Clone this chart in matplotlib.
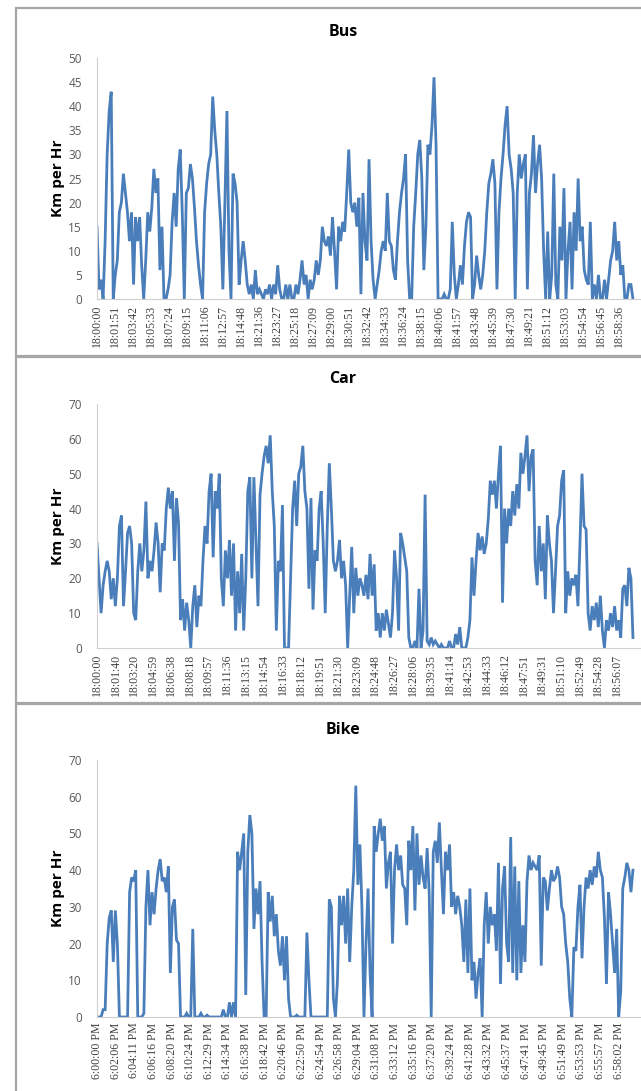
#!/usr/bin/env python3
"""Speed traces (Km per Hr) for bus, car and bike over one hour."""

import matplotlib
matplotlib.use("Agg")
import matplotlib.pyplot as plt
import numpy as np
from matplotlib.patches import Rectangle

LINE_COLOR = "#4a7ebb"

# Tick labels (category axis, one every few samples)
bus_labels = ["18:00:00", "18:01:51", "18:03:42", "18:05:33", "18:07:24", "18:09:15",
              "18:11:06", "18:12:57", "18:14:48", "18:21:36", "18:23:27", "18:25:18",
              "18:27:09", "18:29:00", "18:30:51", "18:32:42", "18:34:33", "18:36:24",
              "18:38:15", "18:40:06", "18:41:57", "18:43:48", "18:45:39", "18:47:30",
              "18:49:21", "18:51:12", "18:53:03", "18:54:54", "18:56:45", "18:58:36"]
car_labels = ["18:00:00", "18:01:40", "18:03:20", "18:04:59", "18:06:38", "18:08:18",
              "18:09:57", "18:11:36", "18:13:15", "18:14:54", "18:16:33", "18:18:12",
              "18:19:51", "18:21:30", "18:23:09", "18:24:48", "18:26:27", "18:28:06",
              "18:39:35", "18:41:14", "18:42:53", "18:44:33", "18:46:12", "18:47:51",
              "18:49:31", "18:51:10", "18:52:49", "18:54:28", "18:56:07"]
bike_labels = ["6:00:00 PM", "6:02:06 PM", "6:04:11 PM", "6:06:16 PM", "6:08:20 PM",
               "6:10:24 PM", "6:12:29 PM", "6:14:34 PM", "6:16:38 PM", "6:18:42 PM",
               "6:20:46 PM", "6:22:50 PM", "6:24:54 PM", "6:26:58 PM", "6:29:04 PM",
               "6:31:08 PM", "6:33:12 PM", "6:35:16 PM", "6:37:20 PM", "6:39:24 PM",
               "6:41:28 PM", "6:43:32 PM", "6:45:37 PM", "6:47:41 PM", "6:49:45 PM",
               "6:51:49 PM", "6:53:53 PM", "6:55:57 PM", "6:58:02 PM"]

# sample index of the last tick label in each series
bus_last_tick = 257
car_last_tick = 255
bike_last_tick = 256

# Speeds (Km per Hr)
bus_speed = [
    15, 2, 4, 0, 12, 30, 39, 43, 0, 5, 8, 18, 20, 26, 22, 18, 12, 18, 3, 17,
    12, 17, 7, 0, 8, 18, 14, 19, 27, 22, 25, 6, 15, 0, 0, 2, 5, 16, 22, 15,
    27, 31, 18, 0, 22, 23, 28, 25, 19, 12, 7, 3, 0, 18, 24, 28, 30, 42, 35, 30,
    22, 15, 2, 20, 39, 10, 0, 26, 24, 20, 3, 8, 12, 8, 3, 1, 3, 0, 6, 1,
    2, 1, 0, 2, 1, 3, 0, 3, 1, 7, 2, 0, 0, 3, 0, 3, 0, 0, 3, 1,
    4, 8, 3, 5, 0, 4, 2, 4, 8, 5, 8, 15, 12, 11, 13, 9, 17, 10, 2, 15,
    12, 16, 14, 22, 31, 20, 18, 20, 15, 21, 1, 22, 12, 8, 29, 12, 4, 0, 3, 6,
    10, 12, 10, 22, 12, 11, 6, 4, 12, 18, 22, 25, 30, 8, 0, 0, 15, 22, 30, 33,
    25, 6, 15, 32, 30, 36, 46, 32, 0, 0, 0, 1, 0, 0, 2, 16, 5, 0, 3, 7,
    3, 11, 16, 18, 17, 0, 3, 9, 5, 2, 5, 10, 18, 24, 26, 29, 24, 2, 18, 25,
    30, 36, 40, 30, 27, 22, 0, 22, 30, 25, 28, 30, 2, 22, 26, 34, 22, 28, 32, 25,
    10, 0, 14, 0, 5, 26, 3, 0, 15, 8, 23, 0, 10, 16, 2, 18, 10, 25, 12, 15,
    6, 4, 3, 16, 0, 3, 0, 5, 0, 0, 4, 0, 4, 8, 10, 16, 8, 12, 5, 7,
    0, 0, 3, 3, 0,
]
car_speed = [
    30, 20, 10, 18, 22, 25, 22, 14, 20, 12, 20, 35, 38, 12, 22, 33, 35, 30, 10, 8,
    22, 30, 22, 28, 42, 20, 25, 22, 28, 36, 30, 16, 30, 28, 40, 46, 40, 45, 25, 43,
    36, 8, 14, 5, 13, 8, 0, 12, 18, 6, 15, 12, 25, 35, 30, 45, 50, 26, 45, 40,
    50, 20, 12, 28, 20, 31, 15, 30, 5, 22, 10, 27, 5, 20, 45, 49, 20, 49, 30, 12,
    44, 50, 55, 58, 53, 61, 45, 35, 5, 25, 22, 41, 0, 0, 0, 20, 40, 48, 35, 50,
    52, 58, 45, 40, 17, 43, 11, 28, 25, 40, 45, 30, 10, 35, 53, 40, 25, 22, 25, 31,
    20, 25, 18, 0, 15, 29, 10, 23, 15, 20, 18, 15, 21, 14, 27, 15, 24, 5, 10, 3,
    10, 5, 11, 7, 3, 10, 28, 20, 5, 33, 30, 26, 22, 3, 0, 0, 2, 0, 17, 0,
    5, 44, 2, 1, 3, 1, 2, 1, 0, 1, 0, 0, 0, 2, 0, 0, 4, 1, 6, 0,
    0, 0, 3, 8, 26, 15, 25, 33, 28, 32, 27, 30, 37, 48, 44, 48, 40, 50, 58, 13,
    40, 30, 40, 35, 45, 38, 47, 40, 56, 50, 55, 61, 45, 55, 57, 25, 18, 35, 22, 30,
    14, 38, 30, 25, 10, 22, 35, 38, 48, 51, 10, 22, 15, 20, 18, 21, 12, 30, 50, 35,
    34, 10, 5, 12, 8, 13, 6, 15, 5, 0, 8, 5, 10, 6, 12, 5, 8, 3, 17, 18,
    12, 23, 20, 3,
]
bike_speed = [
    0, 0, 0, 2, 2, 20, 27, 29, 15, 29, 20, 0, 0, 0, 0, 0, 34, 38, 37, 40,
    0, 0, 0, 1, 30, 40, 25, 34, 28, 35, 40, 43, 37, 38, 34, 41, 12, 30, 32, 21,
    20, 0, 0, 0, 1, 0, 0, 24, 0, 0, 0, 1, 0, 0, 0.5, 0, 0, 0, 0, 0,
    0, 0, 2, 0, 0, 4, 0, 4, 0, 45, 40, 45, 50, 6, 45, 55, 50, 24, 35, 28,
    37, 15, 0, 0, 34, 26, 33, 22, 28, 18, 14, 22, 10, 22, 5, 0, 0, 0, 0.5, 0,
    0, 0, 0, 23, 10, 0, 0, 0, 0, 0, 0, 0, 0, 0, 32, 30, 5, 0, 10, 33,
    25, 33, 20, 35, 15, 30, 40, 63, 36, 47, 30, 0, 20, 35, 12, 0, 52, 45, 50, 54,
    48, 52, 35, 42, 45, 20, 40, 47, 40, 44, 36, 35, 25, 48, 40, 52, 29, 50, 36, 44,
    38, 35, 46, 34, 0, 45, 48, 42, 53, 40, 28, 45, 40, 47, 30, 34, 28, 33, 30, 25,
    15, 32, 12, 35, 10, 15, 5, 12, 16, 0, 25, 34, 20, 30, 25, 28, 18, 42, 9, 35,
    41, 20, 15, 49, 12, 41, 10, 37, 12, 25, 15, 37, 44, 40, 42, 41, 40, 44, 14, 38,
    37, 29, 35, 40, 37, 38, 41, 38, 30, 28, 20, 15, 5, 0, 19, 18, 30, 36, 16, 30,
    38, 35, 40, 36, 41, 38, 45, 40, 38, 27, 9, 34, 28, 20, 12, 24, 0, 7, 35, 38,
    42, 40, 34, 40,
]

FIG_W, FIG_H = 641, 1091

# name, values, labels, last tick index, y max, y step, zero px, top px, title y px
panels = [
    ("Bus", bus_speed, bus_labels, bus_last_tick, 50, 5, 299, 58, 32),
    ("Car", car_speed, car_labels, car_last_tick, 70, 10, 648, 404, 379),
    ("Bike", bike_speed, bike_labels, bike_last_tick, 70, 10, 1017, 760, 730),
]
frames = [(8, 356), (357, 703), (704, 1100)]

fig = plt.figure(figsize=(FIG_W / 100, FIG_H / 100), dpi=100)
fig.patch.set_facecolor("white")

# grey frames around each chart (the right side is cut off in the source)
for top, bottom in frames:
    fig.add_artist(Rectangle((16 / FIG_W, 1 - bottom / FIG_H), 1.0, (bottom - top) / FIG_H,
                             transform=fig.transFigure, fill=False,
                             edgecolor="#a6a6a6", linewidth=1.6, clip_on=False))

left_px = 97
for name, vals, labels, last_tick, ymax, ystep, y0_px, ytop_px, title_px in panels:
    ax = fig.add_axes([left_px / FIG_W, 1 - y0_px / FIG_H,
                       1 - left_px / FIG_W, (y0_px - ytop_px) / FIG_H])
    x = np.arange(len(vals))
    ax.plot(x, vals, color=LINE_COLOR, linewidth=2.0, solid_joinstyle="miter")
    ax.set_xlim(0, (len(vals) - 1) * 1.015)
    ax.set_ylim(0, ymax)
    ax.set_yticks(np.arange(0, ymax + 1, ystep))
    ticks = np.arange(len(labels)) * last_tick / (len(labels) - 1)
    ax.set_xticks(ticks)
    ax.set_xticklabels(labels, rotation=90, fontsize=8.5, family="Liberation Serif",
                       color="#404040")
    ax.tick_params(axis="y", length=0, pad=11, labelsize=8.5, labelcolor="#595959")
    ax.tick_params(axis="x", length=0, pad=4)
    for lab in ax.get_yticklabels():
        lab.set_family("Open Sans")
    for side in ("top", "right"):
        ax.spines[side].set_visible(False)
    ax.spines["left"].set_color("#d0d0d0")
    ax.spines["bottom"].set_color("#d0d0d0")
    ax.set_ylabel("Km per Hr", fontsize=11, fontweight="bold", family="Open Sans",
                  labelpad=2)
    fig.text(343 / FIG_W, 1 - title_px / FIG_H, name, ha="center", va="center",
             fontsize=11.5, fontweight="bold", family="Open Sans")

fig.savefig("out.png", dpi=100)
